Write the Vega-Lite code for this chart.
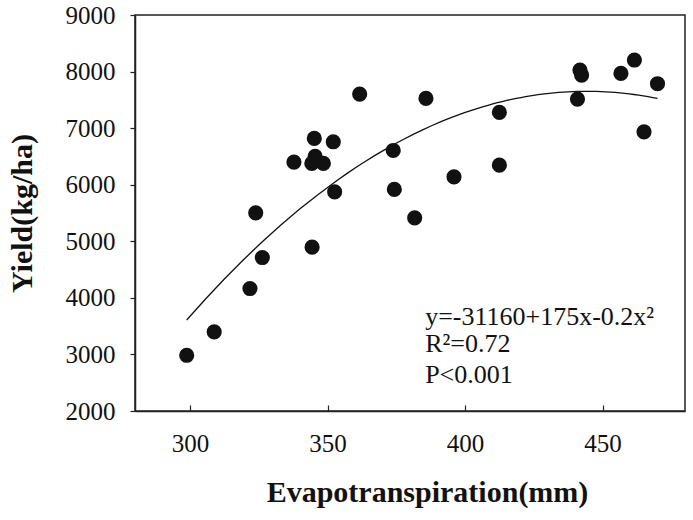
{
  "$schema": "https://vega.github.io/schema/vega-lite/v6.json",
  "autosize": {"type": "none"},
  "padding": {"left": 135, "top": 15, "right": 8, "bottom": 109},
  "width": 550,
  "height": 396,
  "config": {
    "font": "Liberation Serif",
    "view": {"stroke": "#222", "strokeWidth": 1.5},
    "axis": {"grid": false, "domainColor": "#222", "domainWidth": 1.5, "tickColor": "#222", "tickWidth": 1.2, "labelColor": "#111", "labelFont": "Liberation Serif, Times New Roman, serif", "labelFontSize": 25, "labelFontWeight": "normal", "titleFont": "Liberation Serif", "titleColor": "#111", "titleFontWeight": "bold", "titleFontSize": 30}
  },
  "datasets": {
    "pts": [
      {"et": 298.8, "yield": 2985},
      {"et": 308.8, "yield": 3400},
      {"et": 321.8, "yield": 4165},
      {"et": 323.9, "yield": 5503},
      {"et": 326.3, "yield": 4713},
      {"et": 337.8, "yield": 6400},
      {"et": 344.4, "yield": 4896},
      {"et": 345.2, "yield": 6819},
      {"et": 345.5, "yield": 6500},
      {"et": 344.3, "yield": 6376},
      {"et": 348.5, "yield": 6376},
      {"et": 352.1, "yield": 6759},
      {"et": 352.6, "yield": 5874},
      {"et": 361.7, "yield": 7602},
      {"et": 373.9, "yield": 6605},
      {"et": 374.3, "yield": 5917},
      {"et": 381.7, "yield": 5414},
      {"et": 385.8, "yield": 7526},
      {"et": 396.0, "yield": 6139},
      {"et": 412.5, "yield": 7279},
      {"et": 412.5, "yield": 6346},
      {"et": 440.9, "yield": 7514},
      {"et": 441.8, "yield": 8027},
      {"et": 442.4, "yield": 7938},
      {"et": 456.7, "yield": 7968},
      {"et": 461.6, "yield": 8204},
      {"et": 465.1, "yield": 6935},
      {"et": 470.0, "yield": 7785}
    ],
    "notes": [
      {"label": "y=-31160+175x-0.2x²", "et": 385.5, "yield": 3516},
      {"label": "R²=0.72", "et": 385.5, "yield": 3038},
      {"label": "P<0.001", "et": 385.5, "yield": 2490}
    ]
  },
  "layer": [
    {
      "data": {"name": "pts"},
      "transform": [{"regression": "yield", "on": "et", "method": "poly", "order": 2, "extent": [298.8, 470]}],
      "mark": {"type": "line", "color": "#111", "strokeWidth": 1.3},
      "encoding": {
        "x": {"field": "et", "type": "quantitative"},
        "y": {"field": "yield", "type": "quantitative"}
      }
    },
    {
      "data": {"name": "pts"},
      "mark": {"type": "point", "filled": true, "shape": "circle", "size": 230, "color": "#111", "opacity": 1},
      "encoding": {
        "x": {"field": "et", "type": "quantitative", "scale": {"domain": [280, 480], "nice": false, "zero": false},
          "axis": {"title": "Evapotranspiration(mm)", "format": "d", "values": [300, 350, 400, 450], "tickSize": -6, "labelPadding": 26, "titleX": 292, "titleY": 90, "titleBaseline": "alphabetic", "titleAnchor": "middle"}},
        "y": {"field": "yield", "type": "quantitative", "scale": {"domain": [2000, 9000], "nice": false, "zero": false},
          "axis": {"title": "Yield(kg/ha)", "format": "d", "values": [2000, 3000, 4000, 5000, 6000, 7000, 8000, 9000], "tickSize": 5, "labelPadding": 15, "titleAngle": -90, "titleX": -104, "titleY": 198, "titleAlign": "center", "titleBaseline": "alphabetic"}}
      }
    },
    {
      "data": {"name": "notes"},
      "mark": {"type": "text", "align": "left", "baseline": "alphabetic", "font": "Liberation Serif", "fontSize": 26, "color": "#111"},
      "encoding": {
        "x": {"field": "et", "type": "quantitative"},
        "y": {"field": "yield", "type": "quantitative"},
        "text": {"field": "label"}
      }
    }
  ]
}
